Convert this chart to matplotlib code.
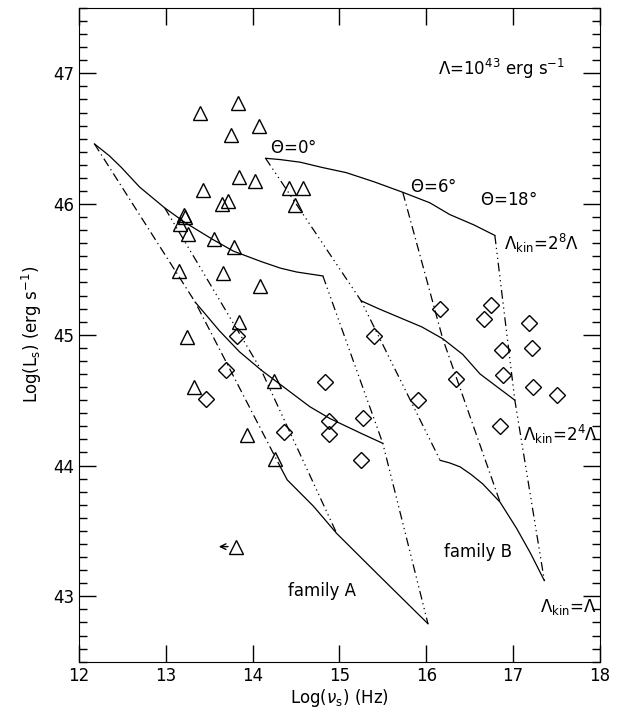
import numpy as np
import matplotlib.pyplot as plt
from matplotlib.ticker import MultipleLocator

# observed sources: triangles (low-peaked) and diamonds (high-peaked)
tri_x = [13.39, 13.83, 14.07, 13.75, 13.84, 14.03, 13.43, 14.42, 14.58, 14.49,
         13.65, 13.72, 13.21, 13.22, 13.16, 13.26, 13.56, 13.79, 13.15, 13.66,
         14.09, 13.85, 13.25, 13.33, 14.25, 13.94, 14.26]
tri_y = [46.70, 46.77, 46.60, 46.53, 46.21, 46.18, 46.11, 46.12, 46.12, 45.99,
         46.00, 46.02, 45.92, 45.90, 45.85, 45.77, 45.73, 45.67, 45.49, 45.47,
         45.37, 45.10, 44.98, 44.60, 44.65, 44.23, 44.05]
dia_x = [13.82, 13.69, 13.46, 14.84, 14.88, 14.88, 14.36, 15.27, 15.25, 15.40,
         15.90, 16.16, 16.75, 16.66, 17.18, 16.87, 17.22, 16.88, 16.34, 17.23,
         17.51, 16.85]
dia_y = [44.99, 44.73, 44.51, 44.64, 44.34, 44.24, 44.26, 44.36, 44.04, 44.99,
         44.50, 45.20, 45.23, 45.12, 45.09, 44.88, 44.90, 44.69, 44.66, 44.60,
         44.54, 44.30]
lim_x, lim_y = 13.81, 43.38

# family A, iso-Lambda_kin curves (Theta 0 -> 18 deg)
a_top_x = [12.18, 12.35, 12.49, 12.70, 12.99, 13.22, 13.54, 13.78, 14.10, 14.32, 14.51, 14.81]
a_top_y = [46.46, 46.37, 46.28, 46.13, 45.97, 45.86, 45.73, 45.64, 45.56, 45.51, 45.48, 45.45]
a_mid_x = [13.34, 13.48, 13.62, 13.85, 14.10, 14.32, 14.66, 14.89, 15.27, 15.50]
a_mid_y = [45.25, 45.14, 45.03, 44.87, 44.73, 44.62, 44.45, 44.36, 44.24, 44.17]
a_low_x = [14.32, 14.40, 14.70, 14.97, 15.47, 16.02]
a_low_y = [43.99, 43.89, 43.69, 43.48, 43.15, 42.79]

# family B
b_top_x = [14.15, 14.32, 14.55, 14.80, 15.08, 15.40, 15.73, 16.04, 16.27, 16.55, 16.79]
b_top_y = [46.35, 46.34, 46.32, 46.28, 46.24, 46.17, 46.09, 46.01, 45.92, 45.84, 45.76]
b_mid_x = [15.25, 15.45, 15.70, 15.95, 16.19, 16.42, 16.62, 16.82, 17.02]
b_mid_y = [45.26, 45.20, 45.13, 45.06, 44.97, 44.85, 44.70, 44.60, 44.50]
b_low_x = [16.16, 16.27, 16.39, 16.52, 16.65, 16.85, 17.04, 17.20, 17.36]
b_low_y = [44.04, 44.02, 43.99, 43.93, 43.86, 43.72, 43.52, 43.33, 43.12]

# iso-Theta lines
a_th0_x, a_th0_y = [12.18, 13.34, 14.32], [46.46, 45.25, 43.99]
a_th6_x, a_th6_y = [12.99, 14.10, 14.97], [45.97, 44.73, 43.48]
a_th18_x, a_th18_y = [14.81, 15.50, 16.02], [45.45, 44.17, 42.79]
b_th0_x, b_th0_y = [14.15, 15.25, 16.16], [46.35, 45.26, 44.04]
b_th6_x, b_th6_y = [15.73, 16.19, 16.85], [46.09, 44.97, 43.72]
b_th18_x, b_th18_y = [16.79, 17.02, 17.36], [45.76, 44.50, 43.12]

dash_dot = (0, (7, 3, 1, 3))
dash_3dot = (0, (7, 3, 1, 3, 1, 3, 1, 3))

plt.rcParams['font.family'] = ['DejaVu Sans']
fig = plt.figure(figsize=(6.23, 7.2), dpi=100)
ax = fig.add_axes([0.1265, 0.081, 0.8365, 0.908])

lw = 0.9
for xs, ys in [(a_top_x, a_top_y), (a_mid_x, a_mid_y), (a_low_x, a_low_y),
               (b_top_x, b_top_y), (b_mid_x, b_mid_y), (b_low_x, b_low_y)]:
    ax.plot(xs, ys, color='black', lw=lw)

ax.plot(a_th0_x, a_th0_y, color='black', lw=lw, ls=dash_dot)
ax.plot(a_th6_x, a_th6_y, color='black', lw=lw, ls=dash_3dot)
ax.plot(a_th18_x, a_th18_y, color='black', lw=lw, ls=dash_3dot)
ax.plot(b_th0_x, b_th0_y, color='black', lw=lw, ls=dash_3dot)
ax.plot(b_th6_x, b_th6_y, color='black', lw=lw, ls=dash_dot)
ax.plot(b_th18_x, b_th18_y, color='black', lw=lw, ls=dash_3dot)

ax.plot(tri_x, tri_y, ls='none', marker='^', ms=10, mfc='none', mec='black', mew=1.0)
ax.plot(dia_x, dia_y, ls='none', marker='D', ms=8, mfc='none', mec='black', mew=1.0)
ax.plot([lim_x], [lim_y], ls='none', marker='^', ms=10, mfc='none', mec='black', mew=1.0)
ax.annotate('', xy=(lim_x - 0.23, lim_y), xytext=(lim_x - 0.06, lim_y),
            arrowprops=dict(arrowstyle='->', color='black', lw=1.0))

fs = 12
ax.text(17.6, 47.03, r'$\Lambda$=10$^{43}$ erg s$^{-1}$', fontsize=fs, ha='right', va='center')
ax.text(14.20, 46.43, r'$\Theta$=0°', fontsize=fs, va='center')
ax.text(15.81, 46.13, r'$\Theta$=6°', fontsize=fs, va='center')
ax.text(16.62, 46.03, r'$\Theta$=18°', fontsize=fs, va='center')
ax.text(16.90, 45.70, r'$\Lambda_{\rm kin}$=2$^8\Lambda$', fontsize=fs, va='center')
ax.text(17.11, 44.24, r'$\Lambda_{\rm kin}$=2$^4\Lambda$', fontsize=fs, va='center')
ax.text(17.31, 42.92, r'$\Lambda_{\rm kin}$=$\Lambda$', fontsize=fs, va='center')
ax.text(14.41, 43.04, 'family A', fontsize=fs, va='center')
ax.text(16.21, 43.34, 'family B', fontsize=fs, va='center')

ax.set_xlim(12, 18)
ax.set_ylim(42.5, 47.5)
ax.xaxis.set_major_locator(MultipleLocator(1))
ax.yaxis.set_major_locator(MultipleLocator(1))
ax.yaxis.set_minor_locator(MultipleLocator(0.1))
ax.tick_params(which='both', direction='in', top=True, right=True, labelsize=fs)
ax.tick_params(which='major', length=12, width=1)
ax.tick_params(which='minor', length=6, width=1)
ax.set_xlabel(r'Log($\nu_{\rm s}$) (Hz)', fontsize=fs, labelpad=2)
ax.set_ylabel(r'Log(L$_{\rm s}$) (erg s$^{-1}$)', fontsize=fs, labelpad=6)

fig.savefig('out.png', dpi=100)
